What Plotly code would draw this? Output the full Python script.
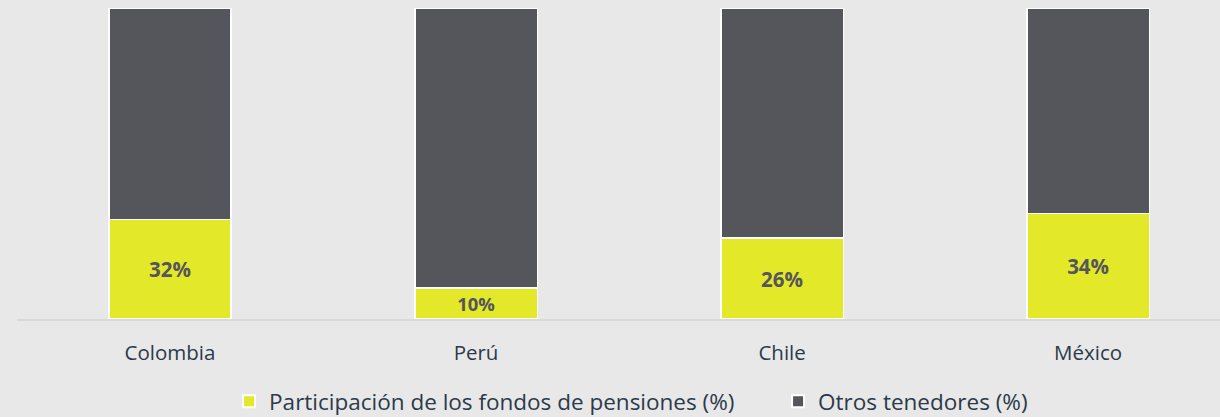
import plotly.graph_objects as go

categories = ["Colombia", "Perú", "Chile", "México"]
pensiones = [32, 10, 26, 34]
otros = [68, 90, 74, 66]
label_pensiones = "Participación de los fondos de pensiones (%)"
label_otros = "Otros tenedores (%)"

YELLOW = "#e3e829"
DARK = "#54565b"
BG = "#e8e8e8"
TEXT = "#2b3a4a"
FONT = "Open Sans"

fig = go.Figure()
fig.add_trace(go.Bar(
    x=categories, y=pensiones, name=label_pensiones,
    marker=dict(color=YELLOW, line=dict(color="white", width=1.5)),
    text=[f"{v}%" for v in pensiones], textposition="inside",
    insidetextanchor="middle", textangle=0,
    textfont=dict(family=FONT, size=20.5, color=DARK, weight="bold"),
    width=0.4, hoverinfo="skip",
))
fig.add_trace(go.Bar(
    x=categories, y=otros, name=label_otros,
    marker=dict(color=DARK, line=dict(color="white", width=1.5)),
    width=0.4, hoverinfo="skip",
))

fig.update_layout(
    barmode="stack",
    width=1220, height=417,
    margin=dict(l=17, r=0, t=8, b=98, autoexpand=False),
    paper_bgcolor=BG, plot_bgcolor=BG,
    font=dict(family=FONT, color=TEXT),
    showlegend=True,
    legend=dict(
        orientation="h", x=0.1763, xanchor="left", y=-0.266, yanchor="middle",
        font=dict(family=FONT, size=22.5, color=TEXT),
        bgcolor="rgba(0,0,0,0)", itemsizing="constant",
        traceorder="normal", itemwidth=30,
        entrywidth=504, entrywidthmode="pixels",
    ),
    xaxis=dict(
        range=[-0.5, 3.431], showgrid=False, zeroline=False,
        showline=True, linecolor="#d9d9d9", linewidth=2,
        ticks="outside", ticklen=14, tickcolor=BG,
        tickfont=dict(family=FONT, size=20.5, color=TEXT),
        fixedrange=True,
    ),
    yaxis=dict(range=[0, 100], visible=False, fixedrange=True),
)

fig.write_html(
    "out.html",
    config={"displayModeBar": False},
    post_script="document.body.style.margin='0';document.body.style.background='#e8e8e8';",
)
